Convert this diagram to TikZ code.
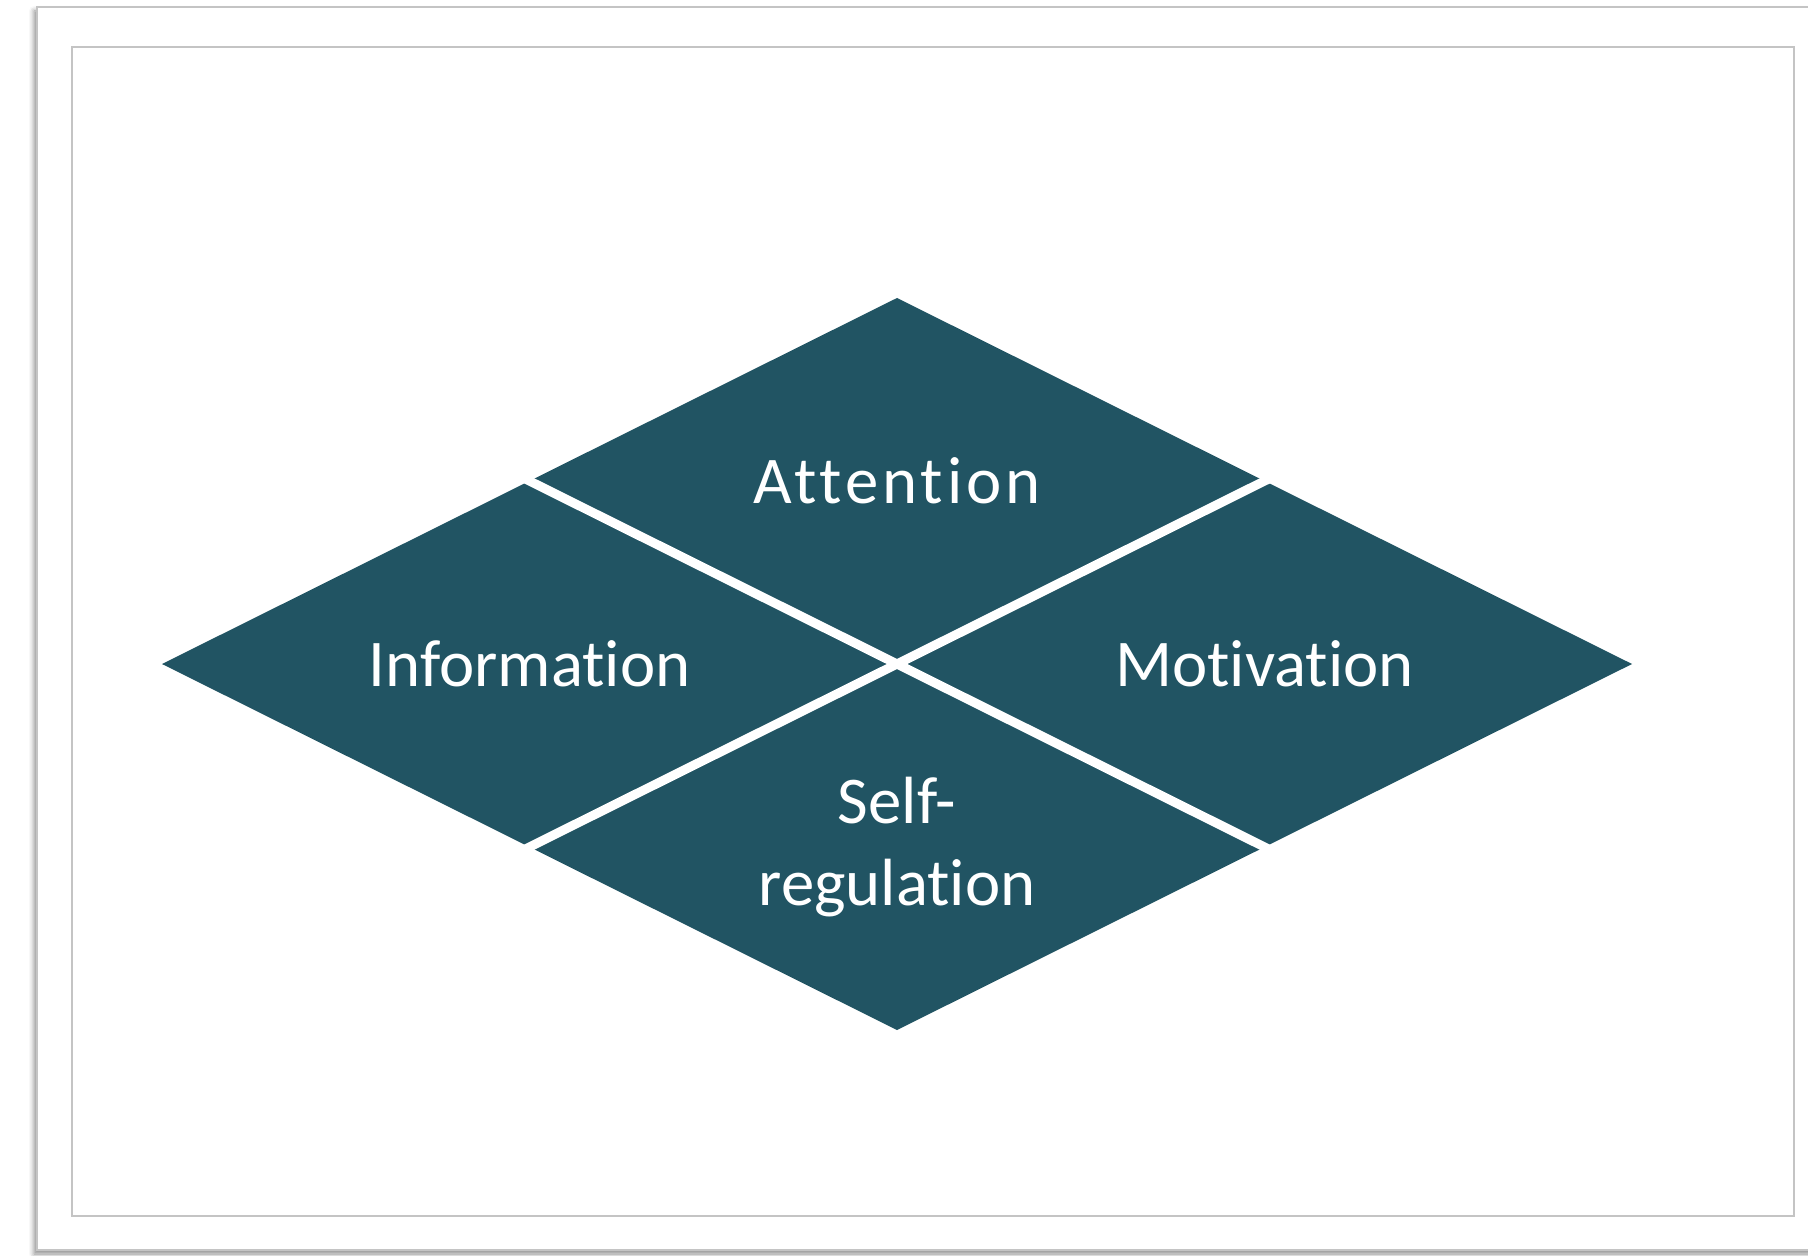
\documentclass[tikz,border=0pt]{standalone}
\usepackage{fontspec}
\setmainfont{Carlito}[Ligatures={NoCommon,NoContextual}]
\usepackage{tikz}
\usetikzlibrary{shapes.geometric, shadows.blur}
\definecolor{deepteal}{HTML}{215463}
\definecolor{framegray}{HTML}{C4C4C4}
\tikzset{piece/.style={diamond,aspect=2,fill=deepteal,minimum width=7.35cm,minimum height=3.66cm,inner sep=0pt,outer sep=0pt,text=white,align=center,font=\fontsize{19}{23.5}\selectfont},
         cut/.style={draw=white,line width=2.6pt,shorten <=-4pt,shorten >=-4pt},
         sheet/.style={draw=framegray,line width=0.6pt,fill=white,blur shadow={shadow xshift=-0.03cm,shadow yshift=-0.04cm,shadow blur radius=0.05cm,shadow opacity=45}},
         panel/.style={draw=framegray,line width=0.6pt}}

\begin{document}
\begin{tikzpicture}[x=1cm,y=1cm]
    \useasboundingbox (0,0) rectangle (18.08,12.55);
    % Page and inner panel
    \path[sheet] (0.37,0.05) rectangle (18.4,12.48);
    \path[panel] (0.72,0.39) rectangle (17.94,12.08);
    % Four pieces of the big diamond
    \node (attention) at (8.97,7.74) [piece]{\addfontfeatures{LetterSpace=6}Attention};
    \node (information) at (5.295,5.91) [piece]{Information};
    \node (motivation) at (12.645,5.91) [piece]{Motivation};
    \node (selfreg) at (8.97,4.08) [piece]{Self-\\regulation};
    % White cuts between the pieces
    \draw[cut] (information.north) -- (motivation.south);
    \draw[cut] (motivation.north) -- (information.south);
  \end{tikzpicture}
\end{document}
